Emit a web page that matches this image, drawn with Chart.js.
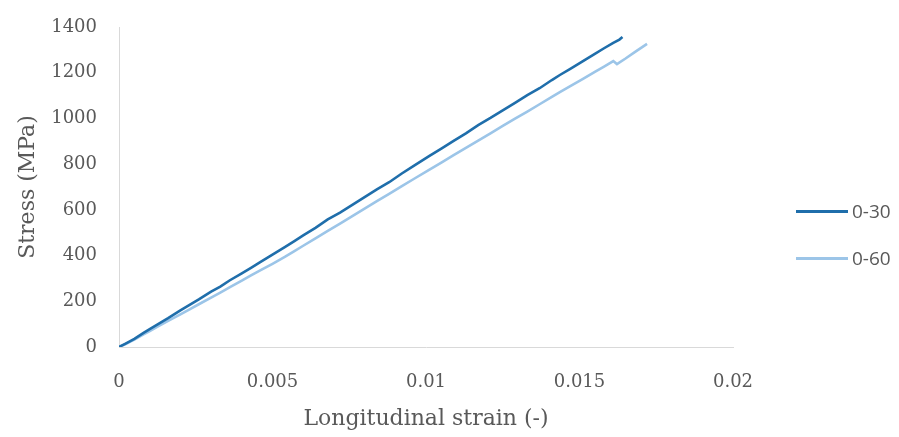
<!DOCTYPE html>
<html>
<head>
<meta charset="utf-8">
<script src="https://cdn.jsdelivr.net/npm/chart.js@4/dist/chart.umd.min.js"></script>
<style>
  html, body { margin: 0; padding: 0; background: #fff; }
  #wrap { position: relative; width: 899px; height: 437px; }
  canvas { position: absolute; left: 0; top: 0; }
  .leg { position: absolute; left: 796px; height: 24px; display: flex; align-items: center;
         font-family: "Open Sans", "Liberation Sans", sans-serif; font-size: 19px; color: #595959; }
  .leg span.ln { display: inline-block; width: 52px; height: 3px; margin-right: 4px; }
</style>
</head>
<body>
<div id="wrap">
  <canvas id="c" width="899" height="437"></canvas>
  <div id="legend"></div>
</div>
<script>
// Series names
const seriesNames = ['0-30', '0-60'];
// Series 0-30: longitudinal strain (-) and stress (MPa)
const strain030 = [0, 0.0002, 0.0005, 0.0008, 0.001, 0.0013, 0.0016, 0.002, 0.0023, 0.0026, 0.003, 0.0033, 0.0036, 0.004, 0.0043, 0.0046, 0.005, 0.0054, 0.0057, 0.006, 0.0064, 0.0068, 0.0072, 0.0076, 0.008, 0.0084, 0.0088, 0.0092, 0.0096, 0.0101, 0.0105, 0.0109, 0.0113, 0.0117, 0.0121, 0.0125, 0.0129, 0.0133, 0.0137, 0.0141, 0.01436, 0.0147, 0.0151, 0.0155, 0.0158, 0.0161, 0.0163, 0.0164];
const stress030 = [0, 14, 36, 62, 78, 102, 126, 160, 184, 208, 242, 264, 291, 322, 346, 371, 404, 437, 462, 488, 521, 558, 588, 622, 656, 690, 721, 758, 792, 835, 868, 902, 935, 971, 1002, 1035, 1068, 1102, 1132, 1168, 1190, 1217, 1250, 1282, 1307, 1331, 1345, 1356];
// Series 0-60
const strain060 = [0, 0.0002, 0.0005, 0.0008, 0.001, 0.0013, 0.0016, 0.002, 0.0023, 0.0026, 0.003, 0.0033, 0.0036, 0.004, 0.0043, 0.0046, 0.005, 0.0054, 0.0057, 0.006, 0.0064, 0.0068, 0.0072, 0.0076, 0.008, 0.0084, 0.0088, 0.0092, 0.0096, 0.0101, 0.0105, 0.0109, 0.0113, 0.0117, 0.0121, 0.0125, 0.0129, 0.0133, 0.0137, 0.0141, 0.01436, 0.0147, 0.0151, 0.0155, 0.0158, 0.0161, 0.01622, 0.0165, 0.0168, 0.0172];
const stress060 = [0, 12, 32, 55, 69, 92, 114, 143, 165, 187, 216, 238, 261, 290, 313, 335, 364, 394, 418, 443, 475, 508, 540, 573, 605, 638, 670, 703, 735, 775, 807, 839, 871, 903, 935, 967, 999, 1030, 1062, 1094, 1115, 1141, 1172, 1204, 1227, 1251, 1238, 1262, 1290, 1326];
// Axis tick values
const xTicks = [0, 0.005, 0.01, 0.015, 0.02];
const yTicks = [0, 200, 400, 600, 800, 1000, 1200, 1400];

const colors = ['#1f6eab', '#9cc5e8'];

function toPoints(xs, ys) { return xs.map((x, i) => ({ x: x, y: ys[i] })); }

const tickFont = { family: '"DejaVu Serif", serif', size: 18 };
const titleFont = { family: '"DejaVu Serif", serif', size: 22 };
const gray = '#595959';

new Chart(document.getElementById('c'), {
  type: 'line',
  data: {
    datasets: [
      { label: seriesNames[0], data: toPoints(strain030, stress030), borderColor: colors[0], borderWidth: 2.6, pointRadius: 0, tension: 0, fill: false },
      { label: seriesNames[1], data: toPoints(strain060, stress060), borderColor: colors[1], borderWidth: 2.6, pointRadius: 0, tension: 0, fill: false }
    ]
  },
  options: {
    responsive: false,
    animation: false,
    events: [],
    layout: { padding: { left: 0, right: 166, top: 27, bottom: 0 } },
    plugins: { legend: { display: false }, tooltip: { enabled: false } },
    scales: {
      x: {
        type: 'linear',
        min: xTicks[0], max: xTicks[xTicks.length - 1],
        afterBuildTicks: s => { s.ticks = xTicks.map(v => ({ value: v })); },
        afterFit: s => { s.height = 90; },
        grid: { display: false, drawTicks: false },
        border: { display: true, color: '#d9d9d9', width: 1 },
        ticks: { font: tickFont, color: gray, padding: 25, callback: v => String(+Number(v).toFixed(3)) },
        title: { display: true, text: 'Longitudinal strain (-)', font: titleFont, color: gray, padding: { top: 0, bottom: 5 } }
      },
      y: {
        type: 'linear',
        min: yTicks[0], max: yTicks[yTicks.length - 1],
        afterBuildTicks: s => { s.ticks = yTicks.map(v => ({ value: v })); },
        afterFit: s => { s.width = 119; s.paddingTop = 0; s.paddingBottom = 0; },
        grid: { display: false, drawTicks: false },
        border: { display: true, color: '#d9d9d9', width: 1 },
        ticks: { font: tickFont, color: gray, padding: 22, callback: v => String(v) },
        title: { display: true, text: 'Stress (MPa)', font: titleFont, color: gray, padding: { top: 15, bottom: 0 } }
      }
    }
  }
});

// Legend (HTML text)
const legendTops = [199, 246];
const lg = document.getElementById('legend');
seriesNames.forEach((n, i) => {
  const d = document.createElement('div');
  d.className = 'leg';
  d.style.top = legendTops[i] + 'px';
  d.innerHTML = '<span class="ln" style="background:' + colors[i] + '"></span>' + n;
  lg.appendChild(d);
});
</script>
</body>
</html>
